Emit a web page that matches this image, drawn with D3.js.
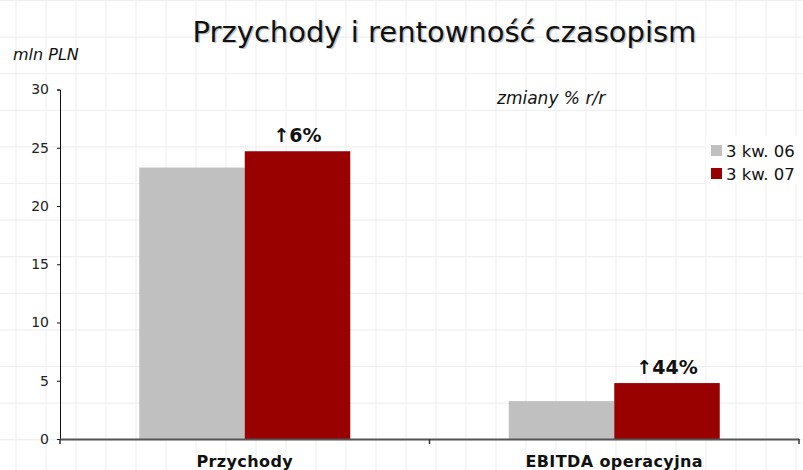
<!DOCTYPE html>
<html><head><meta charset="utf-8">
<script src="https://cdn.jsdelivr.net/npm/d3@7"></script>
<style>body{margin:0;background:#fff}svg{display:block}</style>
</head><body>
<script>
const categories = ["Przychody", "EBITDA operacyjna"];
const seriesNames = ["3 kw. 06", "3 kw. 07"];
const values06 = [23.3, 3.25];
const values07 = [24.7, 4.8];
const changeLabels = ["6%", "44%"];
const yTicks = [0, 5, 10, 15, 20, 25, 30];
const colors = ["#c0c0c0", "#990000"];

const W = 803, H = 470;
const svg = d3.select("body").append("svg").attr("width", W).attr("height", H);

// notebook grid background
const bg = svg.append("g");
bg.selectAll("line.v").data(d3.range(16, W, 30)).join("line")
  .attr("x1", d => d).attr("x2", d => d).attr("y1", 0).attr("y2", H)
  .attr("stroke", "#f0f0f0").attr("stroke-width", 1.2);
bg.selectAll("line.h").data(d3.range(0, H, 36.6)).join("line")
  .attr("y1", d => d + 0.5).attr("y2", d => d + 0.5).attr("x1", 0).attr("x2", W)
  .attr("stroke", "#f0f0f0").attr("stroke-width", 1.2);

const x0 = 60, x1 = 799, yTop = 89.5, yBot = 439;
const x = d3.scaleBand().domain(categories).range([x0, x1]).padding(0);
const y = d3.scaleLinear().domain([0, 30]).range([yBot, yTop]);
const barW = 105.5;

// bars
const series = [values06, values07];
series.forEach((vals, si) => {
  svg.append("g").selectAll("rect").data(categories).join("rect")
    .attr("x", (c) => x(c) + x.bandwidth() / 2 - barW + si * barW)
    .attr("width", barW)
    .attr("y", (c, i) => y(vals[i]))
    .attr("height", (c, i) => y(0) - y(vals[i]))
    .attr("fill", colors[si]);
});

// change labels
svg.append("g").selectAll("text").data(categories).join("text")
  .attr("x", c => x(c) + x.bandwidth() / 2 + barW / 2)
  .attr("y", (c, i) => y(values07[i]) - 9)
  .attr("text-anchor", "middle")
  .attr("font-family", "'Comic Sans MS', 'DejaVu Sans', sans-serif")
  .attr("font-weight", "bold").attr("font-size", 19).attr("fill", "#111")
  .text((c, i) => "\u2191" + changeLabels[i]);

// y axis
const yAxis = d3.axisLeft(y).tickValues(yTicks).tickSize(3).tickPadding(8).tickSizeOuter(3);
const gy = svg.append("g").attr("transform", `translate(${x0},0)`).call(yAxis);
gy.select(".domain").attr("stroke", "#111");
gy.selectAll(".tick line").attr("stroke", "#111");
gy.selectAll(".tick text").attr("font-family", "'DejaVu Sans', Verdana, sans-serif")
  .attr("font-size", 14).attr("fill", "#222");

// x axis
const gx = svg.append("g").attr("transform", `translate(0,${yBot})`);
gx.append("line").attr("x1", x0).attr("x2", x1).attr("y1", 0.5).attr("y2", 0.5)
  .attr("stroke", "#555").attr("stroke-width", 2);
gx.selectAll("line.t").data([x0, x0 + x.bandwidth(), x1]).join("line")
  .attr("x1", d => d).attr("x2", d => d).attr("y1", 0).attr("y2", 5)
  .attr("stroke", "#333").attr("stroke-width", 1.5);
gx.selectAll("text").data(categories).join("text")
  .attr("x", c => x(c) + x.bandwidth() / 2).attr("y", 28)
  .attr("text-anchor", "middle")
  .attr("font-family", "'DejaVu Sans', Verdana, sans-serif")
  .attr("font-weight", "bold").attr("font-size", 16).attr("letter-spacing", 0.4).attr("fill", "#111")
  .text(c => c);

// title with shadow
const title = "Przychody i rentowność czasopism";
svg.append("text").attr("x", 446).attr("y", 43).attr("text-anchor", "middle")
  .attr("font-family", "'Comic Sans MS', 'DejaVu Sans', sans-serif").attr("font-size", 29)
  .attr("fill", "#c4c4c4").text(title);
svg.append("text").attr("x", 444.5).attr("y", 41.5).attr("text-anchor", "middle")
  .attr("font-family", "'Comic Sans MS', 'DejaVu Sans', sans-serif").attr("font-size", 29)
  .attr("fill", "#111").text(title);

// unit label
svg.append("text").attr("x", 13).attr("y", 60)
  .attr("font-family", "'Comic Sans MS', 'DejaVu Sans', sans-serif").attr("font-style", "italic")
  .attr("font-size", 16).attr("fill", "#111").text("mln PLN");

svg.append("text").attr("x", 497).attr("y", 104)
  .attr("font-family", "'Comic Sans MS', 'DejaVu Sans', sans-serif").attr("font-style", "italic")
  .attr("font-size", 17).attr("fill", "#111").text("zmiany % r/r");

// legend
const lg = svg.append("g").attr("transform", "translate(706,136)");
lg.append("rect").attr("width", 97).attr("height", 48).attr("fill", "#fff");
const li = lg.selectAll("g").data(seriesNames).join("g")
  .attr("transform", (d, i) => `translate(5,${9 + i * 23})`);
li.append("rect").attr("width", 11).attr("height", 11).attr("fill", (d, i) => colors[i]);
li.append("text").attr("x", 15).attr("y", 11.5)
  .attr("font-family", "'DejaVu Sans', Verdana, sans-serif").attr("font-size", 16.5)
  .attr("fill", "#111").text(d => d);
</script>
</body></html>
